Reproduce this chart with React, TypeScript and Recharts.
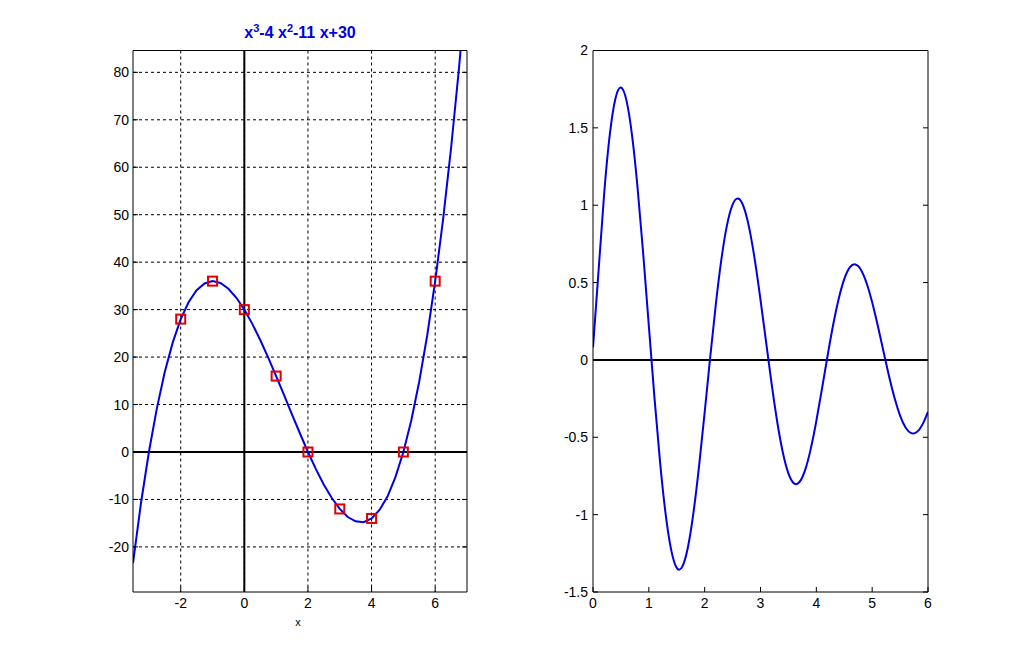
import { ComposedChart, LineChart, Line, Scatter, XAxis, YAxis, CartesianGrid, ReferenceLine } from "recharts"

// left panel: cubic curve, sampled every 0.25
const polyX = [
  -3.5, -3.25, -3, -2.75, -2.5, -2.25, -2, -1.75, -1.5, -1.25, -1, -0.75, -0.5, -0.25,
  0, 0.25, 0.5, 0.75, 1, 1.25, 1.5, 1.75, 2, 2.25, 2.5, 2.75, 3, 3.25, 3.5, 3.75,
  4, 4.25, 4.5, 4.75, 5, 5.25, 5.5, 5.75, 6, 6.25, 6.5, 6.75, 7,
]
const polyY = [
  -23.4, -10.8, 0, 9.2, 16.9, 23.1, 28, 31.6, 34.1, 35.5, 36, 35.6, 34.4, 32.5,
  30, 27, 23.6, 19.9, 16, 12, 7.9, 3.9, 0, -3.6, -6.9, -9.7, -12, -13.7, -14.6, -14.8,
  -14, -12.2, -9.4, -5.3, 0, 6.7, 14.9, 24.6, 36, 49.1, 64.1, 81, 100,
]

// red square markers
const markX = [-2, -1, 0, 1, 2, 3, 4, 5, 6]
const markY = [28, 36, 30, 16, 0, -12, -14, 0, 36]

const leftXTicks = [-2, 0, 2, 4, 6]
const leftYTicks = [-20, -10, 0, 10, 20, 30, 40, 50, 60, 70, 80]

// right panel: damped wave, sampled every 0.1
const waveX = [
  0, 0.1, 0.2, 0.3, 0.4, 0.5, 0.6, 0.7, 0.8, 0.9, 1, 1.1, 1.2, 1.3, 1.4, 1.5, 1.6, 1.7, 1.8, 1.9,
  2, 2.1, 2.2, 2.3, 2.4, 2.5, 2.6, 2.7, 2.8, 2.9, 3, 3.1, 3.2, 3.3, 3.4, 3.5, 3.6, 3.7, 3.8, 3.9,
  4, 4.1, 4.2, 4.3, 4.4, 4.5, 4.6, 4.7, 4.8, 4.9, 5, 5.1, 5.2, 5.3, 5.4, 5.5, 5.6, 5.7, 5.8, 5.9, 6,
]
const waveY = [
  0.08, 0.577, 1.074, 1.454, 1.687, 1.761, 1.676, 1.449, 1.106, 0.683,
  0.22, -0.24, -0.656, -0.994, -1.228, -1.344, -1.336, -1.211, -0.986, -0.685,
  -0.339, 0.02, 0.36, 0.651, 0.871, 1.004, 1.043, 0.988, 0.849, 0.642,
  0.389, 0.115, -0.157, -0.401, -0.598, -0.733, -0.798, -0.789, -0.711, -0.575,
  -0.395, -0.189, 0.024, 0.224, 0.394, 0.522, 0.598, 0.617, 0.582, 0.497,
  0.373, 0.222, 0.059, -0.102, -0.245, -0.36, -0.438, -0.473, -0.466, -0.418, -0.335,
]

const rightXTicks = [0, 1, 2, 3, 4, 5, 6]
const rightYTicks = [-1.5, -1, -0.5, 0, 0.5, 1, 1.5, 2]

const curve = polyX.map((x, i) => ({ x, y: polyY[i] }))
const marks = markX.map((x, i) => ({ x, y: markY[i] }))
const wave = waveX.map((x, i) => ({ x, y: waveY[i] }))

const FONT = "'Liberation Sans', Arial, Helvetica, sans-serif"
const BLUE = "#0000e6"
const tickStyle = { fill: "#000", fontSize: 14, fontFamily: FONT }
const blank = () => ""
const black = { stroke: "#000" }

function Square({ cx, cy }: { cx?: number; cy?: number }) {
  if (cx == null || cy == null) return null
  return <rect x={cx - 4.5} y={cy - 4.5} width={9} height={9} fill="none" stroke="#e00000" strokeWidth={2} />
}

// axis boxes: bottom 30, left 40, top 1, right 1 (margins shrink to match)
export default function App() {
  return (
    <div style={{ position: "absolute", left: 0, top: 0, width: 1024, height: 665, background: "#fff", fontFamily: FONT }}>
      {/* title of the left panel */}
      <div style={{ position: "absolute", left: 150, width: 300, top: 22, textAlign: "center", color: BLUE, fontWeight: 700, fontSize: 16 }}>
        x<sup style={{ fontSize: 11 }}>3</sup>-4 x<sup style={{ fontSize: 11 }}>2</sup>-11 x+30
      </div>

      <div style={{ position: "absolute", left: 0, top: 0 }}>
        <ComposedChart width={512} height={665} margin={{ top: 49.5, right: 44, bottom: 43, left: 93 }}>
          <CartesianGrid stroke="#000" strokeDasharray="3 3" strokeWidth={1} syncWithTicks />
          <XAxis type="number" dataKey="x" domain={[-3.5, 7]} ticks={leftXTicks} allowDataOverflow
            height={30} axisLine={black} tickLine={black}
            tickSize={-5} tickMargin={11} tick={tickStyle} />
          <XAxis xAxisId="top" orientation="top" type="number" domain={[-3.5, 7]} ticks={leftXTicks} allowDataOverflow
            height={1} axisLine={black} tickLine={black} tickSize={-5} tickFormatter={blank} />
          <YAxis type="number" dataKey="y" domain={[-29.5, 84.6]} ticks={leftYTicks} allowDataOverflow
            width={40} axisLine={black} tickLine={black}
            tickSize={-5} tickMargin={9} tick={tickStyle} />
          <YAxis yAxisId="right" orientation="right" type="number" domain={[-29.5, 84.6]} ticks={leftYTicks} allowDataOverflow
            width={1} axisLine={black} tickLine={black} tickSize={-5} tickFormatter={blank} />
          <ReferenceLine y={0} stroke="#000" strokeWidth={2} />
          <ReferenceLine x={0} stroke="#000" strokeWidth={2} />
          <Line data={curve} dataKey="y" type="linear" stroke={BLUE} strokeWidth={2} dot={false} isAnimationActive={false} />
          <Scatter data={marks} dataKey="y" shape={<Square />} isAnimationActive={false} />
        </ComposedChart>
      </div>

      {/* x label of the left panel */}
      <div style={{ position: "absolute", left: 288, width: 20, top: 616, textAlign: "center", fontSize: 11, color: "#000" }}>x</div>

      <div style={{ position: "absolute", left: 512, top: 0 }}>
        <LineChart width={512} height={665} margin={{ top: 49.5, right: 95, bottom: 43, left: 41 }}>
          <XAxis type="number" dataKey="x" domain={[0, 6]} ticks={rightXTicks} allowDataOverflow
            height={30} axisLine={black} tickLine={black}
            tickSize={-5} tickMargin={11} tick={tickStyle} />
          <XAxis xAxisId="top" orientation="top" type="number" domain={[0, 6]} ticks={rightXTicks} allowDataOverflow
            height={1} axisLine={black} tickLine={black} tickSize={-5} tickFormatter={blank} />
          <YAxis type="number" dataKey="y" domain={[-1.5, 2]} ticks={rightYTicks} allowDataOverflow
            width={40} axisLine={black} tickLine={black}
            tickSize={-5} tickMargin={10} tick={tickStyle} />
          <YAxis yAxisId="right" orientation="right" type="number" domain={[-1.5, 2]} ticks={rightYTicks} allowDataOverflow
            width={1} axisLine={black} tickLine={black} tickSize={-5} tickFormatter={blank} />
          <ReferenceLine y={0} stroke="#000" strokeWidth={2} />
          <Line data={wave} dataKey="y" type="natural" stroke={BLUE} strokeWidth={2} dot={false} isAnimationActive={false} />
        </LineChart>
      </div>
    </div>
  )
}
